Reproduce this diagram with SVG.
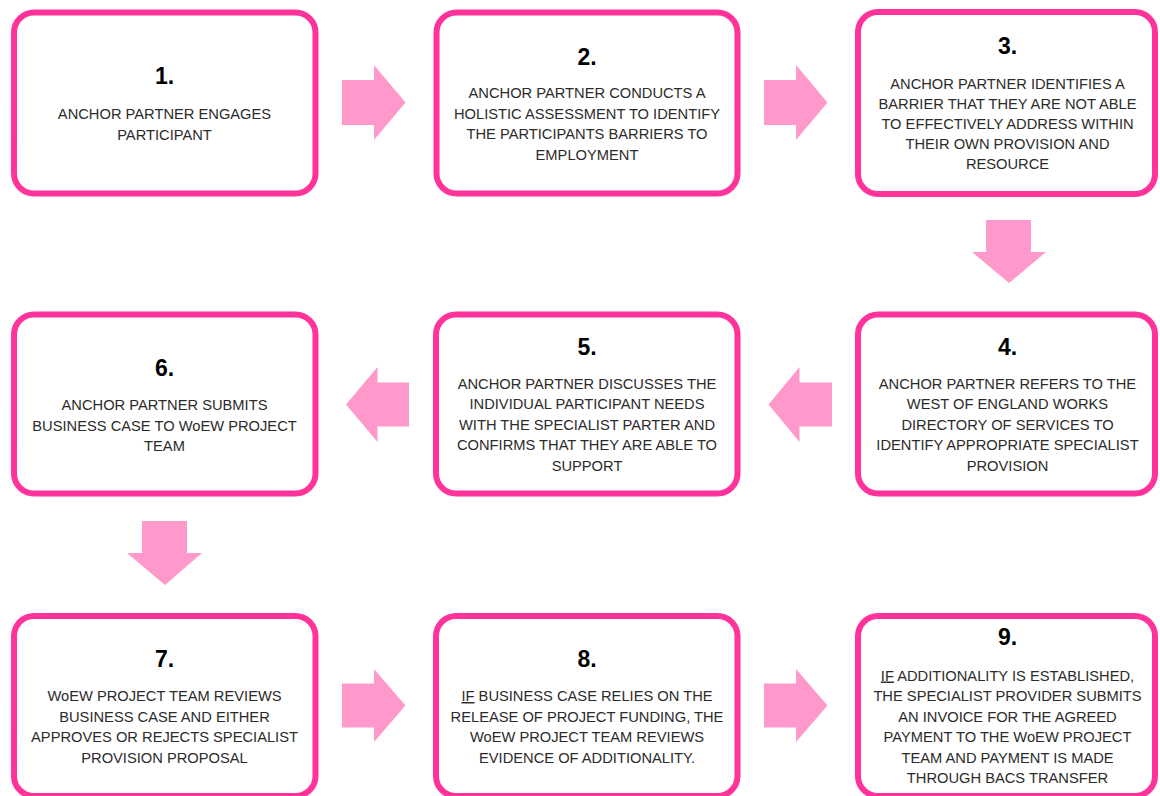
<svg xmlns="http://www.w3.org/2000/svg" width="1160" height="796" viewBox="0 0 1160 796">
<style>
.box{fill:#fff;stroke:#FF3399;stroke-width:6}
.arr{fill:#FF99CC}
.num{font-family:"Liberation Sans",Arial,sans-serif;font-weight:bold;font-size:23px;fill:#000;text-anchor:middle}
.txt{font-family:"Liberation Sans",Arial,sans-serif;font-size:14.7px;fill:#2b2b2b;text-anchor:middle}
</style>
<rect width="1160" height="796" fill="#fff"/>
<g id="connectors">
<polygon class="arr" points="342,80 374,80 374,65 405.5,102.5 374,140 374,125 342,125"/>
<polygon class="arr" points="764,80 796,80 796,65 827.5,102.5 796,140 796,125 764,125"/>
<polygon class="arr" points="986,220 1031,220 1031,252 1046,252 1009,283 972,252 986,252"/>
<polygon class="arr" points="832,382.5 799.5,382.5 799.5,367 768.5,404.5 799.5,442 799.5,426.5 832,426.5"/>
<polygon class="arr" points="409,382.5 377.5,382.5 377.5,367 346,404.5 377.5,442 377.5,426.5 409,426.5"/>
<polygon class="arr" points="142,521 187,521 187,553 202,553 165,585 127,553 142,553"/>
<polygon class="arr" points="342,683.5 374,683.5 374,669 405.5,705.5 374,742 374,727.5 342,727.5"/>
<polygon class="arr" points="764,683.5 796,683.5 796,669 827.5,705.5 796,742 796,727.5 764,727.5"/>
</g>
<g id="node1">
<rect class="box" x="14" y="12.5" width="301.5" height="181" rx="20"/>
<text class="num" x="164.5" y="84">1.</text>
<text class="txt" x="164.5" y="119">ANCHOR PARTNER ENGAGES</text>
<text class="txt" x="164.5" y="139.5">PARTICIPANT</text>
</g>
<g id="node2">
<rect class="box" x="436.5" y="12.5" width="301" height="181" rx="20"/>
<text class="num" x="587" y="64.5">2.</text>
<text class="txt" x="587" y="98">ANCHOR PARTNER CONDUCTS A</text>
<text class="txt" x="587" y="118.5">HOLISTIC ASSESSMENT TO IDENTIFY</text>
<text class="txt" x="587" y="139">THE PARTICIPANTS BARRIERS TO</text>
<text class="txt" x="587" y="159.5">EMPLOYMENT</text>
</g>
<g id="node3">
<rect class="box" x="858" y="12" width="297" height="182" rx="20"/>
<text class="num" x="1007.5" y="53.5">3.</text>
<text class="txt" x="1007.5" y="89">ANCHOR PARTNER IDENTIFIES A</text>
<text class="txt" x="1007.5" y="109">BARRIER THAT THEY ARE NOT ABLE</text>
<text class="txt" x="1007.5" y="129">TO EFFECTIVELY ADDRESS WITHIN</text>
<text class="txt" x="1007.5" y="149">THEIR OWN PROVISION AND</text>
<text class="txt" x="1007.5" y="169">RESOURCE</text>
</g>
<g id="node4">
<rect class="box" x="858" y="314.5" width="297" height="179" rx="20"/>
<text class="num" x="1007.5" y="354.5">4.</text>
<text class="txt" x="1007.5" y="388.5">ANCHOR PARTNER REFERS TO THE</text>
<text class="txt" x="1007.5" y="409">WEST OF ENGLAND WORKS</text>
<text class="txt" x="1007.5" y="429.5">DIRECTORY OF SERVICES TO</text>
<text class="txt" x="1007.5" y="450">IDENTIFY APPROPRIATE SPECIALIST</text>
<text class="txt" x="1007.5" y="470.5">PROVISION</text>
</g>
<g id="node5">
<rect class="box" x="436" y="314.5" width="301.5" height="179" rx="20"/>
<text class="num" x="587" y="354.5">5.</text>
<text class="txt" x="587" y="388.5">ANCHOR PARTNER DISCUSSES THE</text>
<text class="txt" x="587" y="409">INDIVIDUAL PARTICIPANT NEEDS</text>
<text class="txt" x="587" y="429.5">WITH THE SPECIALIST PARTER AND</text>
<text class="txt" x="587" y="450">CONFIRMS THAT THEY ARE ABLE TO</text>
<text class="txt" x="587" y="470.5">SUPPORT</text>
</g>
<g id="node6">
<rect class="box" x="14" y="314.5" width="301.5" height="179" rx="20"/>
<text class="num" x="164.5" y="376">6.</text>
<text class="txt" x="164.5" y="410">ANCHOR PARTNER SUBMITS</text>
<text class="txt" x="164.5" y="430.5">BUSINESS CASE TO WoEW PROJECT</text>
<text class="txt" x="164.5" y="451">TEAM</text>
</g>
<g id="node7">
<rect class="box" x="14" y="616" width="301.5" height="180" rx="20"/>
<text class="num" x="164.5" y="666.5">7.</text>
<text class="txt" x="164.5" y="701">WoEW PROJECT TEAM REVIEWS</text>
<text class="txt" x="164.5" y="721.5">BUSINESS CASE AND EITHER</text>
<text class="txt" x="164.5" y="742">APPROVES OR REJECTS SPECIALIST</text>
<text class="txt" x="164.5" y="762.5">PROVISION PROPOSAL</text>
</g>
<g id="node8">
<rect class="box" x="436" y="616" width="301.5" height="180" rx="20"/>
<text class="num" x="587" y="666.5">8.</text>
<text class="txt" x="587" y="701"><tspan text-decoration="underline">IF</tspan> BUSINESS CASE RELIES ON THE</text>
<text class="txt" x="587" y="721.5">RELEASE OF PROJECT FUNDING, THE</text>
<text class="txt" x="587" y="742">WoEW PROJECT TEAM REVIEWS</text>
<text class="txt" x="587" y="762.5">EVIDENCE OF ADDITIONALITY.</text>
</g>
<g id="node9">
<rect class="box" x="858" y="616" width="297" height="180" rx="20"/>
<text class="num" x="1007.5" y="645">9.</text>
<text class="txt" x="1007.5" y="680.5"><tspan text-decoration="underline">IF</tspan> ADDITIONALITY IS ESTABLISHED,</text>
<text class="txt" x="1007.5" y="701">THE SPECIALIST PROVIDER SUBMITS</text>
<text class="txt" x="1007.5" y="721.5">AN INVOICE FOR THE AGREED</text>
<text class="txt" x="1007.5" y="742">PAYMENT TO THE WoEW PROJECT</text>
<text class="txt" x="1007.5" y="762.5">TEAM AND PAYMENT IS MADE</text>
<text class="txt" x="1007.5" y="782.5">THROUGH BACS TRANSFER</text>
</g>
</svg>
